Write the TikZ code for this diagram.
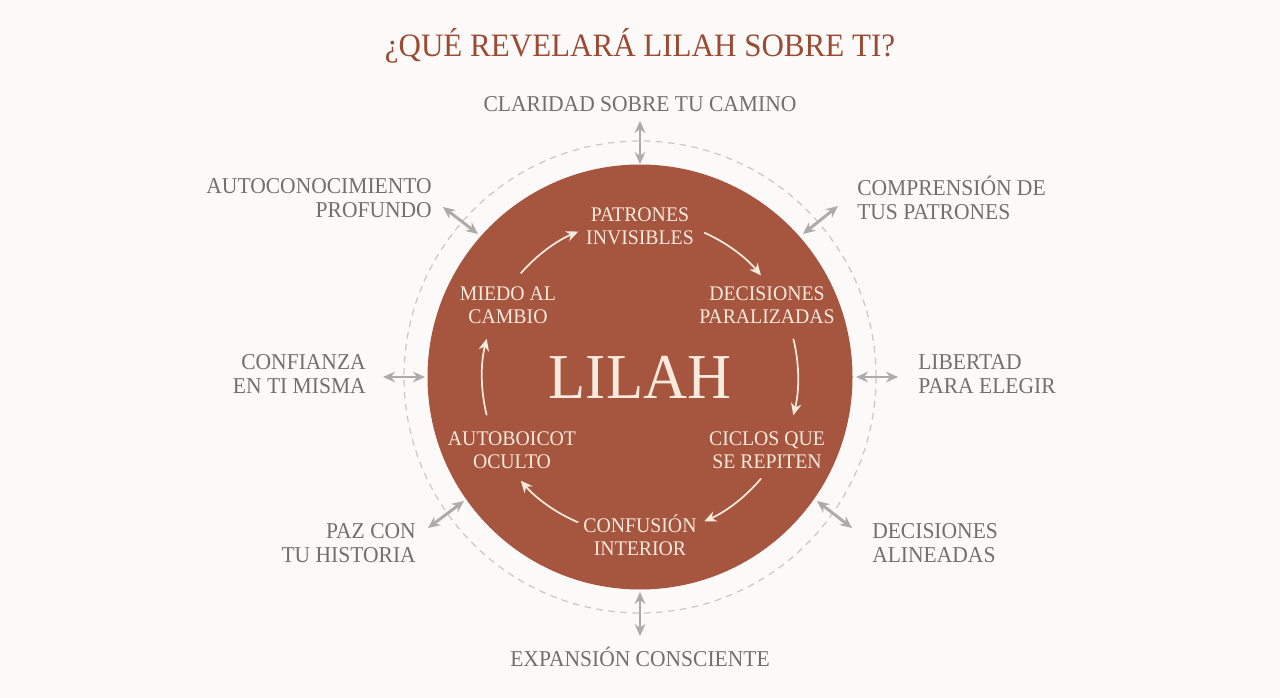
\documentclass[tikz,border=0pt]{standalone}
\usepackage{fontspec}
\setmainfont[FakeStretch=0.95]{Liberation Serif}
\usetikzlibrary{arrows.meta,calc}
\definecolor{bg}{HTML}{FBFAF9}
\definecolor{terra}{HTML}{A6553F}
\definecolor{titlec}{HTML}{9B4A33}
\definecolor{grayt}{HTML}{707070}
\definecolor{graya}{HTML}{ABABAB}
\definecolor{dashc}{HTML}{C8C8C8}
\definecolor{cream}{HTML}{F8EADD}
\tikzset{
  outer/.style={text=grayt, font=\fontsize{17}{18}\selectfont, inner sep=0pt},
  inner/.style={text=cream, font=\fontsize{15.6}{17.2}\selectfont, inner sep=0pt, align=center},
  dbl/.style={draw=graya, line width=2.2pt, {Stealth[length=9pt,width=8pt]}-{Stealth[length=9pt,width=8pt]}},
  flow/.style={draw=cream, line width=1.3pt, -{Stealth[length=9pt,width=8pt]}},
}
\begin{document}
\begin{tikzpicture}[x=0.75pt,y=-0.75pt]
\fill[bg] (0,0) rectangle (1280,698);
\useasboundingbox (0,0) rectangle (1280,698);
% title
\node[text=titlec, font=\fontsize{24.5}{26}\selectfont, inner sep=0pt] (title) at (640,46) {¿QUÉ REVELARÁ LILAH SOBRE TI?};
% circles
\coordinate (c) at (640,377);
\draw[dashc, line width=0.9pt, dash pattern=on 5pt off 4pt] (c) circle[radius=236];
\node[circle, fill=terra, minimum size=425*0.75pt, inner sep=0pt] (lilah) at (c) {};
\node[text=cream, font=\fontsize{48}{50}\selectfont, inner sep=0pt] (lilahtxt) at (640,377) {LILAH};
% inner labels
\node[inner] (pat) at (640,226) {PATRONES\\INVISIBLES};
\node[inner] (dec) at (767,305) {DECISIONES\\PARALIZADAS};
\node[inner] (cic) at (767,450) {CICLOS QUE\\SE REPITEN};
\node[inner] (con) at (640,535) {CONFUSIÓN\\INTERIOR};
\node[inner] (aut) at (512,450) {AUTOBOICOT\\OCULTO};
\node[inner] (mie) at (508,305) {MIEDO AL\\CAMBIO};
% inner flow arcs (radius 158 around centre; y axis points down)
\draw[flow] ($(c)+(-139:158)$) arc[start angle=-139, end angle=-113, radius=158];
\draw[flow] ($(c)+(-66:158)$) arc[start angle=-66, end angle=-40, radius=158];
\draw[flow] ($(c)+(-14:158)$) arc[start angle=-14, end angle=14, radius=158];
\draw[flow] ($(c)+(40:158)$) arc[start angle=40, end angle=66, radius=158];
\draw[flow] ($(c)+(113:158)$) arc[start angle=113, end angle=139, radius=158];
\draw[flow] ($(c)+(166:158)$) arc[start angle=166, end angle=194, radius=158];
% outer labels
\node[outer] (n) at (640,104) {CLARIDAD SOBRE TU CAMINO};
\node[outer, align=right, anchor=east] (nw) at (432,198) {AUTOCONOCIMIENTO\\PROFUNDO};
\node[outer, align=left, anchor=west] (ne) at (857,198) {COMPRENSIÓN DE\\TUS PATRONES};
\node[outer, align=right, anchor=east] (w) at (366,374) {CONFIANZA\\EN TI MISMA};
\node[outer, align=left, anchor=west] (e) at (918,374) {LIBERTAD\\PARA ELEGIR};
\node[outer, align=right, anchor=east] (sw) at (416,543) {PAZ CON\\TU HISTORIA};
\node[outer, align=left, anchor=west] (se) at (872,543) {DECISIONES\\ALINEADAS};
\node[outer] (s) at (640,657) {EXPANSIÓN CONSCIENTE};
% double arrows
\coordinate (an1) at (640,121); \coordinate (an2) at (640,164);
\coordinate (as1) at (640,592); \coordinate (as2) at (640,636);
\coordinate (aw1) at (383,377); \coordinate (aw2) at (425,377);
\coordinate (ae1) at (856,377); \coordinate (ae2) at (898,377);
\coordinate (anw1) at (443,207); \coordinate (anw2) at (478,234);
\coordinate (ane1) at (803,234); \coordinate (ane2) at (838,206);
\coordinate (asw1) at (428,528); \coordinate (asw2) at (464,501);
\coordinate (ase1) at (817,501); \coordinate (ase2) at (852,528);
\draw[dbl] (an1) -- (an2);
\draw[dbl] (as1) -- (as2);
\draw[dbl] (aw1) -- (aw2);
\draw[dbl] (ae1) -- (ae2);
\draw[dbl] (anw1) -- (anw2);
\draw[dbl] (ane1) -- (ane2);
\draw[dbl] (asw1) -- (asw2);
\draw[dbl] (ase1) -- (ase2);
\end{tikzpicture}
\end{document}
